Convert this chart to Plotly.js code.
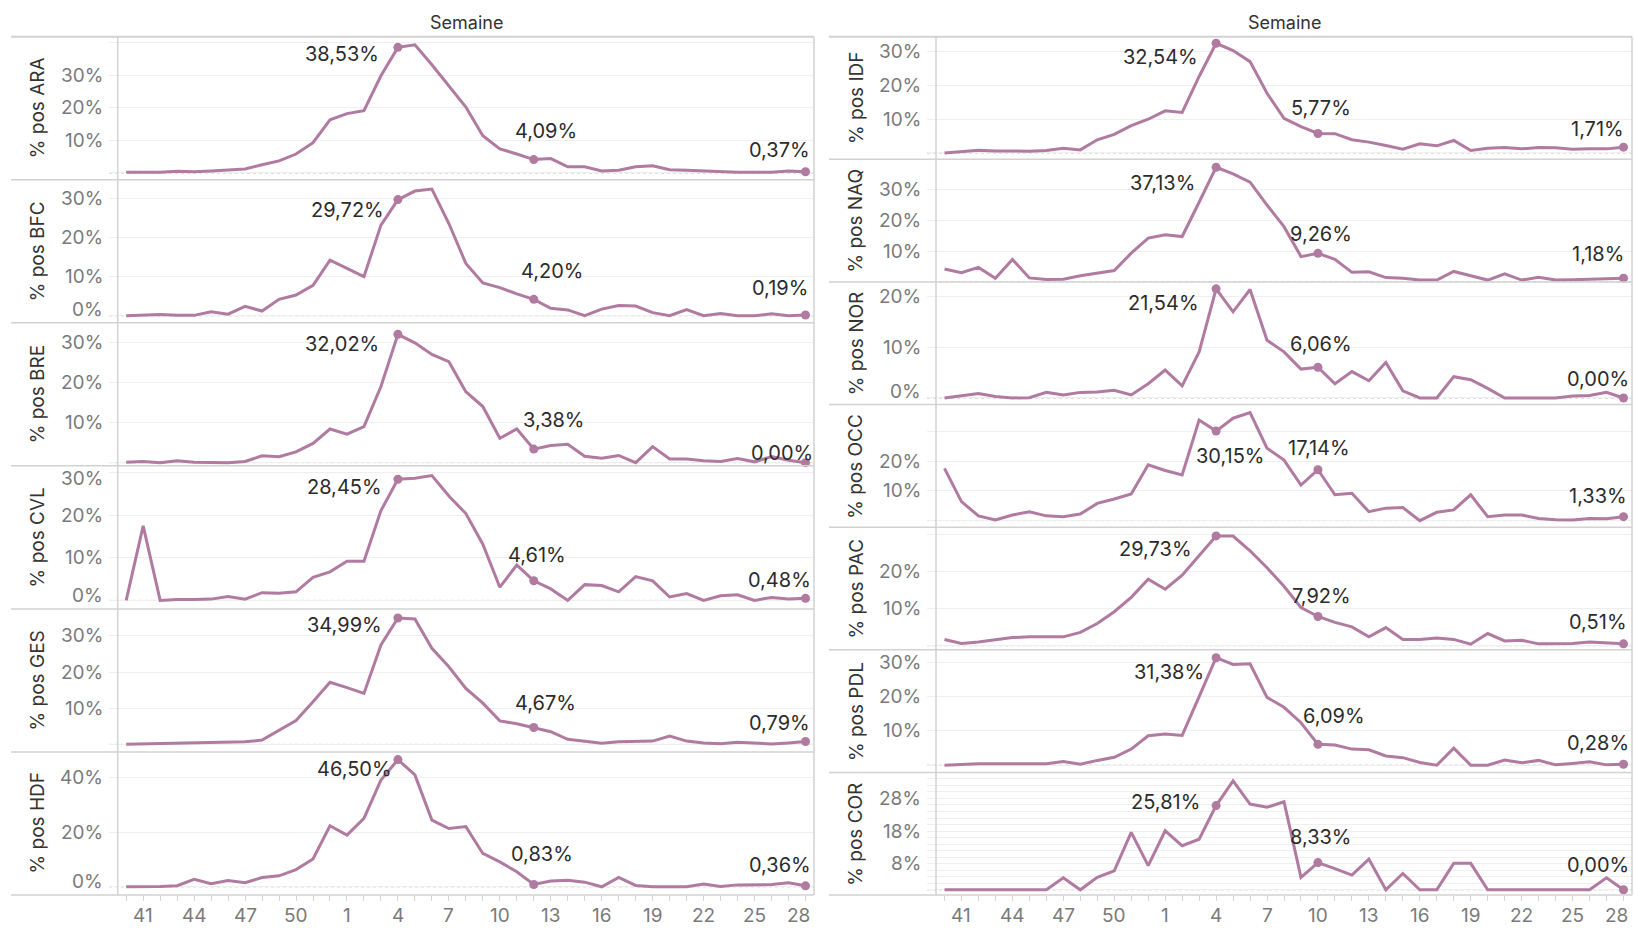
<!DOCTYPE html>
<html><head><meta charset="utf-8">
<script src="https://cdn.plot.ly/plotly-3.0.1.min.js"></script>
<style>html,body{margin:0;padding:0;background:#fff;}#chart{width:1634px;height:928px;}</style>
</head><body><div id="chart"></div>
<script>
// ---------- DATA ----------
const weeks = [40,41,42,43,44,45,46,47,48,49,50,51,52,1,2,3,4,5,6,7,8,9,10,11,12,13,14,15,16,17,18,19,20,21,22,23,24,25,26,27,28];
const regions = ['ARA','BFC','BRE','CVL','GES','HDF','IDF','NAQ','NOR','OCC','PAC','PDL','COR'];
const ARA = [0.2,0.2,0.2,0.5,0.4,0.6,0.9,1.2,2.5,3.7, 5.8,9.3,16.3,18.2,19.1,29.8,38.53,39.3,33.2,26.6, 20.2,11.4,7.4,5.8,4.09,4.4,1.9,1.9,0.6,0.8, 1.9,2.2,1.0,0.8,0.6,0.3,0.2,0.2,0.2,0.6, 0.37];
const BFC = [0.0,0.2,0.3,0.1,0.1,1.0,0.4,2.4,1.2,4.2, 5.3,7.8,14.2,12.1,10.0,23.2,29.72,31.9,32.4,23.6, 13.4,8.4,7.2,5.6,4.20,1.9,1.5,0.0,1.7,2.6, 2.5,0.8,0.0,1.6,0.0,0.6,0.0,0.0,0.5,0.0, 0.19];
const BRE = [0.1,0.3,0.0,0.5,0.1,0.0,0.0,0.3,1.7,1.5, 2.7,4.8,8.4,7.1,9.0,19.0,32.02,29.9,27.0,25.2, 17.7,14.0,6.1,8.4,3.38,4.3,4.6,1.6,1.1,1.8, 0.0,4.0,0.9,0.9,0.5,0.3,1.0,0.2,1.5,0.6, 0.00];
const CVL = [0.0,17.5,0.0,0.2,0.2,0.3,0.9,0.3,1.8,1.7, 2.0,5.4,6.7,9.2,9.2,21.1,28.45,28.7,29.3,24.5, 20.4,13.2,3.1,8.3,4.61,2.7,0.0,3.7,3.5,2.0, 5.6,4.6,0.8,1.6,0.0,1.1,1.3,0.0,0.7,0.3, 0.48];
const GES = [0.0,0.1,0.1,0.2,0.2,0.4,0.6,0.7,1.2,4.0, 6.6,11.8,17.2,15.7,14.1,27.5,34.99,34.7,26.6,21.5, 15.5,11.4,6.5,5.7,4.67,3.5,1.4,0.9,0.3,0.7, 0.9,0.9,2.3,0.9,0.4,0.2,0.6,0.4,0.1,0.4, 0.79];
const HDF = [0.0,0.0,0.1,0.4,2.7,1.1,2.3,1.5,3.4,4.0, 6.3,10.2,22.3,18.9,25.0,39.0,46.50,40.9,24.4,21.3, 22.0,12.2,9.1,5.5,0.83,2.1,2.4,1.7,0.0,3.4, 0.5,0.0,0.0,0.0,1.0,0.1,0.7,0.8,0.8,1.5, 0.36];
const IDF = [0.0,0.5,0.8,0.6,0.5,0.5,0.7,1.4,0.9,3.9, 5.5,8.1,10.0,12.5,12.0,22.7,32.54,30.4,27.1,17.7, 10.3,7.8,5.77,5.7,3.9,3.2,2.2,1.1,2.7,2.1, 3.7,0.7,1.4,1.6,1.2,1.6,1.5,1.1,1.2,1.2, 1.71];
const NAQ = [4.2,3.0,4.7,1.2,7.3,1.3,0.8,0.9,2.0,2.8, 3.7,9.3,14.2,15.3,14.7,25.8,37.13,35.0,32.3,24.9, 17.9,8.2,9.26,7.3,3.1,3.3,1.4,1.2,0.6,0.6, 3.4,2.0,0.6,2.6,0.6,1.5,0.6,0.7,0.9,1.2, 1.18];
const NOR = [0.0,0.5,0.9,0.3,0.0,0.05,1.1,0.6,1.1,1.2, 1.5,0.6,2.8,5.5,2.4,9.1,21.54,17.0,21.4,11.4, 9.1,5.7,6.06,2.8,5.2,3.4,7.0,1.4,0.0,0.0, 4.2,3.6,1.9,0.0,0.0,0.0,0.0,0.4,0.5,1.1, 0.00];
const OCC = [17.6,6.4,1.6,0.2,1.9,3.0,1.6,1.3,2.2,5.8, 7.3,9.0,18.8,16.9,15.4,33.9,30.15,34.5,36.4,24.4, 20.4,12.0,17.14,8.7,9.2,3.0,4.2,4.4,0.0,2.8, 3.6,8.7,1.3,1.9,1.9,0.7,0.3,0.2,0.7,0.6, 1.33];
const PAC = [1.7,0.6,1.0,1.6,2.2,2.4,2.4,2.4,3.6,6.0, 9.2,13.1,18.0,15.3,19.1,24.5,29.73,29.7,25.7,21.1, 16.1,10.3,7.92,6.3,5.1,2.4,4.9,1.7,1.7,2.1, 1.7,0.4,3.3,1.3,1.5,0.5,0.6,0.6,1.0,0.8, 0.51];
const PDL = [0.0,0.3,0.4,0.4,0.4,0.5,0.4,1.1,0.3,1.4, 2.3,4.7,8.6,9.1,8.7,20.0,31.38,29.4,29.6,19.8, 16.9,12.4,6.09,5.9,4.7,4.5,2.7,2.2,0.8,0.0, 5.0,0.0,0.0,1.5,0.7,1.4,0.1,0.5,1.0,0.1, 0.28];
const COR = [0,0,0,0,0,0,0,3.7,0,3.8, 5.8,17.6,7.4,18.1,13.5,15.5,25.81,33.4,26.3,25.3, 27.0,3.8,8.33,6.5,4.5,9.4,0,5.0,0,0, 8.1,8.1,0,0,0,0,0,0,0,3.7, 0.00];
const seriesByRegion = {ARA,BFC,BRE,CVL,GES,HDF,IDF,NAQ,NOR,OCC,PAC,PDL,COR};

// ---------- LAYOUT CONFIG ----------
const W = 1634, H = 928;
const FONT = 'Inter, "Open Sans", sans-serif';
const LINE = '#b07aa1';
const TOP = 36.7, BOTTOM = 895;
const cols = [
  {x0:117.7, x1:814, lx0:11, rows:6, titleX:37, headX:466, midIdx:24, tickStart:109},
  {x0:936, x1:1632, lx0:829, rows:7, titleX:856, headX:1284, midIdx:22, tickStart:927}
];
// per panel: column, row, y range, grid values, labelled values, label offsets [dx,dy] (px, text centre vs point)
const panels = {
  ARA:{c:0,r:0,range:[-2.09,41.8],grid:[0,10,20,30,40],lab:[10,20,30],off:[[-55.5,6.6],[11.8,-28.7],[-26,-21.8]]},
  BFC:{c:0,r:1,range:[-1.8,34.8],grid:[0,10,20,30],lab:[0,10,20,30],off:[[-50,10.5],[18.7,-28.6],[-26,-26.7]]},
  BRE:{c:0,r:2,range:[-0.8,34.9],grid:[0,10,20,30],lab:[10,20,30],off:[[-55.5,9.7],[20,-29],[-23.7,-10]]},
  CVL:{c:0,r:3,range:[-2.0,31.6],grid:[0,10,20,30],lab:[0,10,20,30],off:[[-53.6,8.2],[3.5,-25.7],[-26,-18.3]]},
  GES:{c:0,r:4,range:[-2.1,37.5],grid:[0,10,20,30],lab:[10,20,30],off:[[-53.6,7],[11.8,-24.1],[-26,-18.1]]},
  HDF:{c:0,r:5,range:[-3.0,49.3],grid:[0,20,40],lab:[0,20,40],off:[[-43,9.5],[8,-31],[-26,-20.7]]},
  IDF:{c:1,r:0,range:[-1.9,34.5],grid:[0,10,20,30],lab:[10,20,30],off:[[-55.4,13.4],[3.2,-25.3],[-26,-18]]},
  NAQ:{c:1,r:1,range:[0,39.7],grid:[0,10,20,30],lab:[10,20,30],off:[[-54,16],[3.2,-19.3],[-26,-24.3]]},
  NOR:{c:1,r:2,range:[-1.3,22.9],grid:[0,10,20],lab:[0,10,20],off:[[-52.6,13.9],[3.2,-23.3],[-26,-18.7]]},
  OCC:{c:1,r:3,range:[-2.2,39.1],grid:[0,10,20,30],lab:[10,20],off:[[13.8,24.8],[1,-21.5],[-26,-20.7]]},
  PAC:{c:1,r:4,range:[-1.1,32.1],grid:[0,10,20,30],lab:[10,20],off:[[-61,12.6],[3.2,-20.7],[-26,-22.1]]},
  PDL:{c:1,r:5,range:[-2.1,33.7],grid:[0,10,20,30],lab:[10,20,30],off:[[-47,14],[16.4,-28.7],[-26,-21]]},
  COR:{c:1,r:6,range:[-1.6,36.0],grid:[0,2,4,6,8,10,12,14,16,18,20,22,24,26,28,30,32,34],lab:[8,18,28],off:[[-50.8,-3.9],[3.2,-25.8],[-26,-24.7]]}
};

const px = v => v / W;
const py = v => 1 - v / H;
const fmt = v => v.toFixed(2).replace('.', ',') + '%';

const xIdx = weeks.map((w, i) => i);
const labelIdx = xIdx.filter(i => (i - 1) % 3 === 0);

const traces = [];
const layout = {
  width: W, height: H,
  margin: {l:0, r:0, t:0, b:0},
  paper_bgcolor: '#ffffff', plot_bgcolor: 'rgba(0,0,0,0)',
  showlegend: false, hovermode: false,
  font: {family: FONT, size: 19, color: '#333'},
  annotations: [], shapes: []
};

regions.forEach((reg, k) => {
  const p = panels[reg], col = cols[p.c];
  const rowH = (BOTTOM - TOP) / col.rows;
  const y0 = TOP + p.r * rowH, y1 = y0 + rowH;
  const n = k + 1, sx = n === 1 ? '' : String(n);
  const isBottom = p.r === col.rows - 1;
  const vals = seriesByRegion[reg];

  layout['xaxis' + sx] = {
    domain: [px(col.x0), px(col.x1)], range: [-0.5, weeks.length - 0.5],
    anchor: 'y' + sx, showgrid: false, zeroline: false, showline: false,
    tickmode: 'array', tickvals: isBottom ? xIdx : [],
    ticks: isBottom ? 'outside' : '', ticklen: 5, tickcolor: '#d6d6d6', tickwidth: 1,
    showticklabels: false
  };
  layout['yaxis' + sx] = {
    domain: [py(y1), py(y0)], range: p.range, anchor: 'x' + sx,
    showgrid: true, gridcolor: '#efefef', gridwidth: 1, zeroline: false, showline: false,
    tickmode: 'array', tickvals: p.grid, showticklabels: false,
    ticks: 'outside', ticklen: 8, tickcolor: '#efefef', tickwidth: 1
  };

  // y tick labels, kept inside their pane (as the original tool does)
  const valToPx = v => y1 - (v - p.range[0]) / (p.range[1] - p.range[0]) * (y1 - y0);
  p.lab.forEach(v => {
    const yp = valToPx(v);
    const yc = Math.min(Math.max(yp, y0 + 13), y1 - 13);
    layout.annotations.push({xref:'paper', yref:'y' + sx, x: px(col.x0 - 12.7), y: v, text: v + '%', showarrow:false,
      xanchor:'right', yanchor:'middle', yshift: -(yc - yp),
      font:{family: FONT, size: 19, color:'#7a7a7a'}});
  });

  // dotted zero line
  layout.shapes.push({type:'line', xref:'paper', yref:'y' + sx, x0: px(col.tickStart), x1: px(col.x1), y0: 0, y1: 0,
    line:{color:'#b9b9b9', width:1, dash:'dot'}, layer:'below'});

  traces.push({type:'scatter', mode:'lines', x: xIdx, y: vals, xaxis:'x' + sx, yaxis:'y' + sx,
    line:{color: LINE, width: 3}, cliponaxis: false});
  const marks = [16, col.midIdx, weeks.length - 1];
  traces.push({type:'scatter', mode:'markers', x: marks, y: marks.map(i => vals[i]), xaxis:'x' + sx, yaxis:'y' + sx,
    marker:{color: LINE, size: 9}, cliponaxis: false});
  marks.forEach((i, j) => {
    layout.annotations.push({xref:'x' + sx, yref:'y' + sx, x: i, y: vals[i], text: fmt(vals[i]), showarrow: false,
      xanchor:'center', yanchor:'middle', xshift: p.off[j][0], yshift: -p.off[j][1],
      font:{family: FONT, size: 20, color: '#2b2b2b'}});
  });
  // week labels under the bottom panel of each column (placed on the x scale)
  if (isBottom) {
    labelIdx.forEach(i => {
      const last = i === weeks.length - 1;
      layout.annotations.push({xref:'x' + sx, yref:'paper', x: i, y: py(928), text: String(weeks[i]), showarrow:false,
        xanchor:'center', yanchor:'bottom', borderpad: 0, xshift: last ? -7 : 0,
        font:{family: FONT, size: 19, color:'#7a7a7a'}});
    });
  }
  // row title
  layout.annotations.push({xref:'paper', yref:'paper', x: px(col.titleX), y: py((y0 + y1) / 2), text: '% pos ' + reg,
    textangle: -90, showarrow: false, xanchor:'center', yanchor:'middle',
    font:{family: FONT, size: 19, color: '#333'}});
  // row separator line (top of each row)
  layout.shapes.push({type:'line', xref:'paper', yref:'paper', x0: px(col.lx0), x1: px(col.x1), y0: py(y0), y1: py(y0),
    line:{color:'#d2d2d2', width: p.r === 0 ? 2 : 1.5}});
});

cols.forEach(col => {
  layout.shapes.push({type:'line', xref:'paper', yref:'paper', x0: px(col.lx0), x1: px(col.x1), y0: py(BOTTOM), y1: py(BOTTOM),
    line:{color:'#d2d2d2', width: 1.5}});
  layout.shapes.push({type:'line', xref:'paper', yref:'paper', x0: px(col.x0), x1: px(col.x0), y0: py(TOP), y1: py(BOTTOM),
    line:{color:'#d2d2d2', width: 1.5}});
  layout.shapes.push({type:'line', xref:'paper', yref:'paper', x0: px(col.x1), x1: px(col.x1), y0: py(TOP), y1: py(BOTTOM),
    line:{color:'#d2d2d2', width: 1.5}});
  layout.annotations.push({xref:'paper', yref:'paper', x: px(col.headX), y: py(22.7), text:'Semaine', showarrow:false,
    xanchor:'center', yanchor:'middle', font:{family: FONT, size: 18, color:'#333'}});
});

Plotly.newPlot('chart', traces, layout, {staticPlot: true, displayModeBar: false});
</script>
</body></html>
